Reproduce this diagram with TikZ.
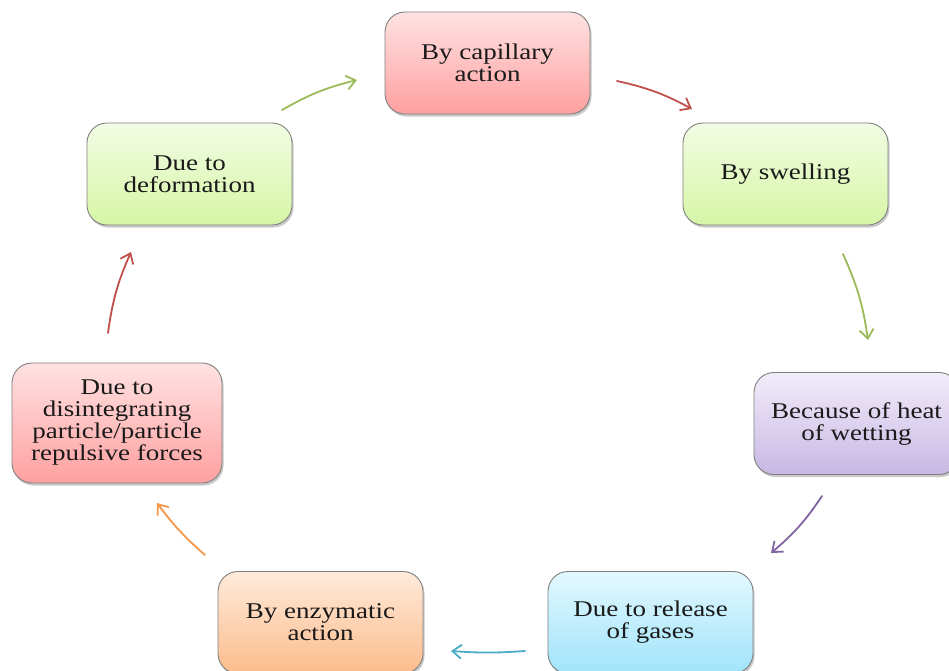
\documentclass[tikz,border=0pt]{standalone}
\usepackage{fontspec}
\setmainfont{Liberation Serif}[FakeStretch=1.2]
\usetikzlibrary{arrows.meta,shadows}
\definecolor{ogreen}{HTML}{9BBB59}
\definecolor{ored}{HTML}{C0504D}
\definecolor{opurple}{HTML}{8064A2}
\definecolor{oteal}{HTML}{4BACC6}
\definecolor{oorange}{HTML}{F79646}
\definecolor{txt}{HTML}{1A1A1A}
\tikzset{
  card/.style={draw=black!50, line width=0.9pt, rounded corners=20pt,
    minimum width=205pt, minimum height=102pt, inner sep=0pt, align=center,
    text=txt, font=\fontsize{22.5}{22}\selectfont,
    drop shadow={shadow xshift=1.5pt, shadow yshift=-2.5pt, opacity=0.35, fill=black!60}},
  pinkcard/.style={card, top color={rgb,255:red,255;green,226;blue,226}, bottom color={rgb,255:red,255;green,160;blue,160}},
  greencard/.style={card, top color={rgb,255:red,242;green,252;blue,228}, bottom color={rgb,255:red,214;green,246;blue,166}},
  purplecard/.style={card, top color={rgb,255:red,242;green,236;blue,250}, bottom color={rgb,255:red,200;green,184;blue,228}},
  bluecard/.style={card, top color={rgb,255:red,226;green,248;blue,255}, bottom color={rgb,255:red,160;green,228;blue,250}},
  orangecard/.style={card, top color={rgb,255:red,255;green,234;blue,218}, bottom color={rgb,255:red,252;green,188;blue,140}},
  cyc/.style={line width=1.8pt, -{Straight Barb[length=9pt,width=14pt]}, line cap=round},
}
\begin{document}
\begin{tikzpicture}[x=1pt,y=1pt]
\useasboundingbox (0,0) rectangle (949,-670);
\fill[white] (0,0) rectangle (949,-670);
\begin{scope}
\clip (0,0) rectangle (949,-670);
\node[pinkcard]   (cap)   at (487.5,-63)   {By capillary\\action};
\node[greencard]  (swell) at (785.5,-174)  {By swelling};
\node[purplecard] (heat)  at (856.5,-423.5){Because of heat\\of wetting};
\node[bluecard]   (gas)   at (650.5,-622.5){Due to release\\of gases};
\node[orangecard] (enz)   at (320.5,-622.5){By enzymatic\\action};
\node[pinkcard, minimum width=210pt, minimum height=120pt] (dis) at (117,-423)
  {Due to\\disintegrating\\particle/particle\\repulsive forces};
\node[greencard]  (def)   at (189.5,-174)  {Due to\\deformation};
\end{scope}
\coordinate (a1s) at (282,-110); \coordinate (a1e) at (357,-80);
\coordinate (a2s) at (617,-81);  \coordinate (a2e) at (692,-109);
\coordinate (a3s) at (843,-254); \coordinate (a3e) at (868,-340);
\coordinate (a4s) at (822,-496); \coordinate (a4e) at (771,-553);
\coordinate (a5s) at (525,-651); \coordinate (a5e) at (451,-651);
\coordinate (a6s) at (205,-555); \coordinate (a6e) at (157,-503);
\coordinate (a7s) at (108,-333); \coordinate (a7e) at (131,-252);
\draw[cyc, ogreen]  (a1s) to[bend left=8] (a1e);
\draw[cyc, ored]    (a2s) to[bend left=8] (a2e);
\draw[cyc, ogreen]  (a3s) to[bend left=8] (a3e);
\draw[cyc, opurple] (a4s) to[bend left=8] (a4e);
\draw[cyc, oteal]   (a5s) to[bend left=4] (a5e);
\draw[cyc, oorange] (a6s) to[bend left=6] (a6e);
\draw[cyc, ored]    (a7s) to[bend left=8] (a7e);
\end{tikzpicture}
\end{document}
